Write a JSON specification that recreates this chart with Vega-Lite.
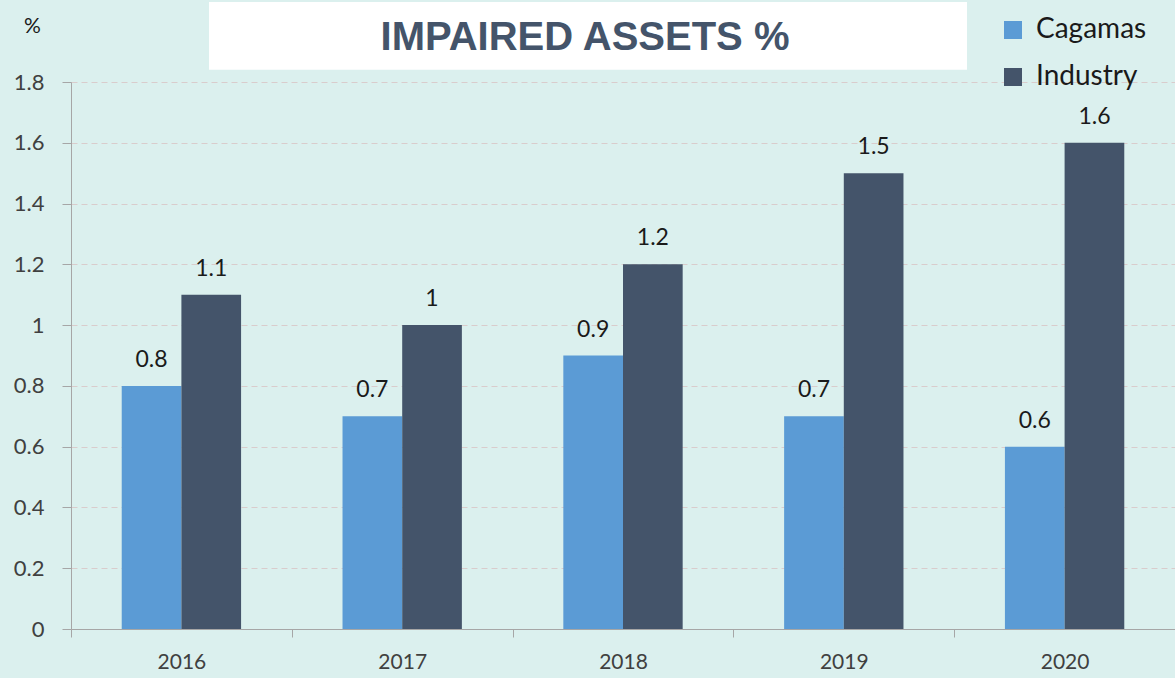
{
  "$schema": "https://vega.github.io/schema/vega-lite/v6.json",
  "autosize": "none",
  "padding": {"left": 71, "top": 82, "right": 0, "bottom": 49},
  "width": 1104,
  "height": 547,
  "background": "#dbf0ee",
  "config": {
    "view": {"stroke": null},
    "font": "Lato"
  },
  "title": {
    "text": "IMPAIRED ASSETS %",
    "font": "Liberation Sans Narrow, Liberation Sans",
    "fontSize": 40,
    "fontWeight": "bold",
    "color": "#44546a",
    "anchor": "middle",
    "frame": "group",
    "dx": -38,
    "offset": -56
  },
  "layer": [
    {
      "data": {"values": [{"x0": 0.125, "x1": 0.8116, "y0": 1.84, "y1": 2.063}]},
      "mark": {"type": "rect", "color": "#ffffff", "clip": false},
      "encoding": {
        "x": {"field": "x0", "type": "quantitative", "scale": {"domain": [0, 1]}, "axis": null},
        "x2": {"field": "x1"},
        "y": {"field": "y0", "type": "quantitative", "scale": {"domain": [0, 1.8]}},
        "y2": {"field": "y1"}
      }
    },
    {
      "data": {"values": [
        {"year": "2016", "series": "Cagamas", "value": 0.8},
        {"year": "2016", "series": "Industry", "value": 1.1},
        {"year": "2017", "series": "Cagamas", "value": 0.7},
        {"year": "2017", "series": "Industry", "value": 1.0},
        {"year": "2018", "series": "Cagamas", "value": 0.9},
        {"year": "2018", "series": "Industry", "value": 1.2},
        {"year": "2019", "series": "Cagamas", "value": 0.7},
        {"year": "2019", "series": "Industry", "value": 1.5},
        {"year": "2020", "series": "Cagamas", "value": 0.6},
        {"year": "2020", "series": "Industry", "value": 1.6}
      ]},
      "encoding": {
        "x": {
          "field": "year", "type": "nominal",
          "scale": {"paddingInner": 0, "paddingOuter": 0},
          "axis": {
            "title": null, "labelAngle": 0, "labelFontSize": 21, "labelColor": "#404040",
            "labelFont": "Lato", "labelPadding": 14,
            "domainColor": "#a6a6a6", "tickColor": "#a6a6a6", "tickBand": "extent", "tickSize": 8,
            "grid": false
          }
        },
        "xOffset": {"field": "series", "type": "nominal", "sort": ["Cagamas", "Industry"], "scale": {"paddingInner": 0, "paddingOuter": 0.85}},
        "y": {
          "field": "value", "type": "quantitative",
          "scale": {"domain": [0, 1.8]},
          "axis": {
            "title": "%", "titleAngle": 0, "titleX": -39, "titleY": -56, "titleFontSize": 21,
            "titleAlign": "center", "titleBaseline": "middle",
            "titleFontWeight": "normal", "titleColor": "#1a1a1a", "titleFont": "Lato",
            "values": [0, 0.2, 0.4, 0.6, 0.8, 1, 1.2, 1.4, 1.6, 1.8],
            "format": ".1~f",
            "labelFontSize": 22, "labelColor": "#404040", "labelFont": "Lato", "labelPadding": 18,
            "domainColor": "#a6a6a6", "tickColor": "#a6a6a6", "tickSize": 9,
            "gridColor": "#d9cccc", "gridDash": [6, 4], "gridWidth": 1
          }
        }
      },
      "layer": [
        {
          "mark": {"type": "bar"},
          "encoding": {
            "color": {
              "field": "series", "type": "nominal",
              "scale": {"domain": ["Cagamas", "Industry"], "range": ["#5b9bd5", "#44546a"]},
              "legend": {
                "title": null, "orient": "none", "legendX": 928, "legendY": -66,
                "symbolType": "square", "symbolSize": 324, "symbolStrokeWidth": 0, "symbolOpacity": 1,
                "labelFontSize": 28, "labelFont": "Lato", "labelColor": "#1a1a1a", "labelOffset": 9,
                "rowPadding": 19
              }
            }
          }
        },
        {
          "mark": {"type": "text", "baseline": "alphabetic", "dy": -19, "fontSize": 23, "color": "#1a1a1a", "font": "Lato"},
          "encoding": {
            "text": {"field": "value", "type": "quantitative"}
          }
        }
      ]
    }
  ],
  "resolve": {"scale": {"x": "independent"}}
}
